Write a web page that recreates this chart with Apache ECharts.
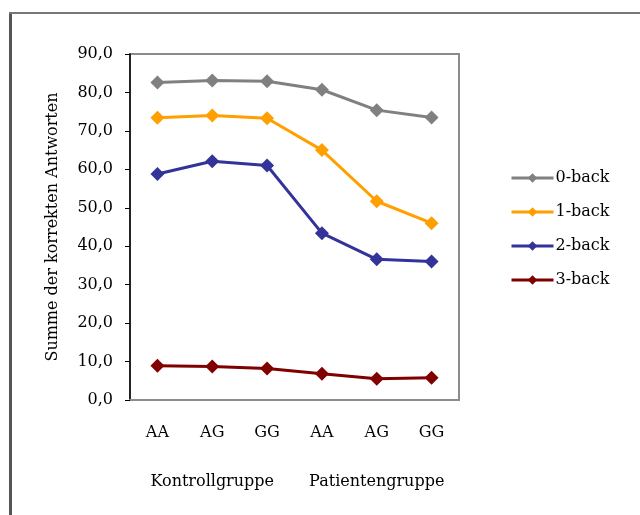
<!DOCTYPE html>
<html>
<head>
<meta charset="utf-8">
<script src="https://cdn.jsdelivr.net/npm/echarts@6/dist/echarts.min.js"></script>
<style>
  html, body { margin: 0; padding: 0; background: #fff; }
  #chart { width: 640px; height: 515px; }
</style>
</head>
<body>
<div id="chart"></div>
<script>
// categories and group labels
const genotypes = ['AA', 'AG', 'GG', 'AA', 'AG', 'GG'];
const groupLabels = ['', 'Kontrollgruppe', '', '', 'Patientengruppe', ''];

// series values
const back0 = [82.6, 83.1, 82.9, 80.7, 75.4, 73.5];
const back1 = [73.4, 74.0, 73.3, 65.0, 51.7, 46.0];
const back2 = [58.8, 62.1, 61.0, 43.4, 36.6, 36.0];
const back3 = [8.9, 8.7, 8.2, 6.8, 5.5, 5.8];

const seriesNames = ['0-back', '1-back', '2-back', '3-back'];
const seriesColors = ['#808080', '#ff9f00', '#333399', '#800000'];

const font = 'DejaVu Serif';

const chart = echarts.init(document.getElementById('chart'));

const makeSeries = (name, data, color) => ({
  name: name,
  type: 'line',
  data: data,
  symbol: 'diamond',
  symbolSize: 14,
  lineStyle: { color: color, width: 3 },
  itemStyle: { color: color },
  animation: false
});

chart.setOption({
  backgroundColor: '#fff',
  textStyle: { fontFamily: font },
  graphic: [
    { type: 'line', shape: { x1: 10.5, y1: 12, x2: 10.5, y2: 515 }, style: { stroke: '#555', lineWidth: 3 } },
    { type: 'line', shape: { x1: 9, y1: 13, x2: 640, y2: 13 }, style: { stroke: '#777', lineWidth: 2 } }
  ],
  grid: {
    left: 130, right: 181, top: 54, bottom: 115,
    show: true, borderColor: '#8c8c8c', borderWidth: 2
  },
  legend: {
    orient: 'vertical',
    left: 505, top: 165,
    itemWidth: 42, itemHeight: 12, itemGap: 18,
    lineStyle: { width: 3 },
    textStyle: { fontFamily: font, fontSize: 16, color: '#000', padding: [0, 0, 0, -3] },
    data: seriesNames
  },
  xAxis: [
    {
      type: 'category',
      data: genotypes,
      boundaryGap: true,
      axisLine: { lineStyle: { color: '#8c8c8c', width: 2 } },
      axisTick: { show: false },
      axisLabel: { margin: 25, fontFamily: font, fontSize: 16, color: '#000' }
    },
    {
      type: 'category',
      data: groupLabels,
      position: 'bottom',
      offset: 49,
      boundaryGap: true,
      axisLine: { show: false },
      axisTick: { show: false },
      axisLabel: { margin: 25, interval: 0, fontFamily: font, fontSize: 16, color: '#000' }
    }
  ],
  yAxis: {
    type: 'value',
    min: 0, max: 90, interval: 10,
    name: 'Summe der korrekten Antworten',
    nameLocation: 'middle',
    nameGap: 69,
    nameTextStyle: { fontFamily: font, fontSize: 16, color: '#000' },
    axisLine: { show: true, lineStyle: { color: '#000', width: 1.5 } },
    axisTick: { show: true, inside: false, length: 5, lineStyle: { color: '#000' } },
    splitLine: { show: false },
    axisLabel: {
      margin: 17,
      fontFamily: font, fontSize: 16, color: '#000',
      formatter: v => v.toFixed(1).replace('.', ',')
    }
  },
  series: [
    makeSeries(seriesNames[0], back0, seriesColors[0]),
    makeSeries(seriesNames[1], back1, seriesColors[1]),
    makeSeries(seriesNames[2], back2, seriesColors[2]),
    makeSeries(seriesNames[3], back3, seriesColors[3])
  ]
});
</script>
</body>
</html>
